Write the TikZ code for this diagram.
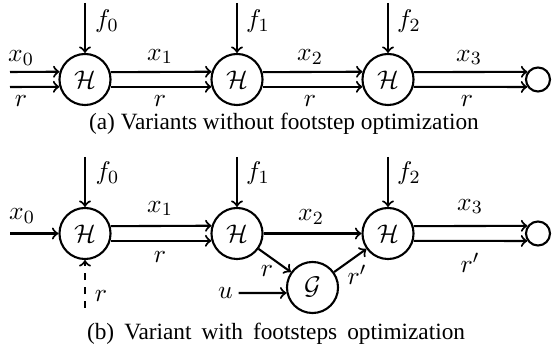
\documentclass[tikz,border=0pt]{standalone}
\usepackage{fontspec}
\setmainfont{Liberation Serif}
\begin{document}
\begin{tikzpicture}[x=0.429pt,y=-0.429pt,line width=0.9pt,
  hnode/.style={draw,circle,minimum size=21.9pt,inner sep=0pt,font=\fontsize{11}{13}\selectfont},
  endnode/.style={draw,circle,minimum size=10.3pt,inner sep=0pt},
  lbl/.style={inner sep=0pt,font=\fontsize{11}{13}\selectfont},
  arr/.style={->},
  captext/.style={inner sep=0pt,font=\fontsize{10}{12}\selectfont}
]
\useasboundingbox (0,0) rectangle (552,356);
% ---------- top diagram ----------
\node[hnode] (a1) at (85,79.5) {$\mathcal{H}$};
\node[hnode] (a2) at (237,79.5) {$\mathcal{H}$};
\node[hnode] (a3) at (388,79.5) {$\mathcal{H}$};
\node[endnode] (a4) at (538,79.5) {};
\coordinate (a0u) at (10,72);
\coordinate (a0l) at (10,87);
\coordinate (fa1) at (85,3);
\coordinate (fa2) at (237,3);
\coordinate (fa3) at (388,3);
\draw[arr] (fa1) -- (a1.north);
\draw[arr] (fa2) -- (a2.north);
\draw[arr] (fa3) -- (a3.north);
\draw[arr] (a0u) -- (a1.163.6);
\draw[arr] (a0l) -- (a1.196.4);
\draw[arr] (a1.16.4) -- (a2.163.6);
\draw[arr] (a1.-16.4) -- (a2.196.4);
\draw[arr] (a2.16.4) -- (a3.163.6);
\draw[arr] (a2.-16.4) -- (a3.196.4);
\draw[arr] (a3.16.4) -- (a4.144.6);
\draw[arr] (a3.-16.4) -- (a4.215.4);
\node[lbl] (tf0) at (107,21.5) {$f_0$};
\node[lbl] (tf1) at (258,21.5) {$f_1$};
\node[lbl] (tf2) at (409,21.5) {$f_2$};
\node[lbl] (tx0) at (21,58) {$x_0$};
\node[lbl] (tr0) at (21,101) {$r$};
\node[lbl] (tx1) at (160,56.5) {$x_1$};
\node[lbl] (tr1) at (160,101) {$r$};
\node[lbl] (tx2) at (310,57) {$x_2$};
\node[lbl] (tr2) at (310,101) {$r$};
\node[lbl] (tx3) at (469,57.5) {$x_3$};
\node[lbl] (tr3) at (467,101) {$r$};
\node[captext,anchor=west] (capa) at (88,124) {(a) Variants without footstep optimization};
% ---------- bottom diagram ----------
\node[hnode] (b1) at (85,233.5) {$\mathcal{H}$};
\node[hnode] (b2) at (237,233.5) {$\mathcal{H}$};
\node[hnode] (b3) at (388,233.5) {$\mathcal{H}$};
\node[endnode] (b4) at (538,233.5) {};
\node[hnode] (g) at (312.5,287.5) {$\mathcal{G}$};
\coordinate (b0) at (10,233.5);
\coordinate (fb1) at (85,157);
\coordinate (fb2) at (237,157);
\coordinate (fb3) at (388,157);
\coordinate (rb) at (85,308);
\draw[arr] (fb1) -- (b1.north);
\draw[arr] (fb2) -- (b2.north);
\draw[arr] (fb3) -- (b3.north);
\draw[arr] (b0) -- (b1);
\draw[arr,dashed] (rb) -- (b1.south);
\draw[arr] (b1.16.4) -- (b2.163.6);
\draw[arr] (b1.-16.4) -- (b2.196.4);
\draw[arr] (b2) -- (b3);
\draw[arr] (b2) -- (g);
\draw[arr] (g) -- (b3);
\draw[arr] (b3.16.4) -- (b4.144.6);
\draw[arr] (b3.-16.4) -- (b4.215.4);
\node[lbl] (u) at (225.5,293) {$u$};
\draw[arr] ([xshift=2pt]u.east) -- (g.192);
\node[lbl] (bf0) at (107.5,173.5) {$f_0$};
\node[lbl] (bf1) at (258,173.5) {$f_1$};
\node[lbl] (bf2) at (409,173.5) {$f_2$};
\node[lbl] (bx0) at (22,216) {$x_0$};
\node[lbl] (bx1) at (160,208.5) {$x_1$};
\node[lbl] (br1) at (160,257) {$r$};
\node[lbl] (bx2) at (311,217) {$x_2$};
\node[lbl] (bx3) at (470,206.5) {$x_3$};
\node[lbl] (br3) at (470,263) {$r'$};
\node[lbl] (brd) at (101,296) {$r$};
\node[lbl] (brg) at (267,271) {$r$};
\node[lbl] (brp) at (357,275) {$r'$};
\node[captext,anchor=west] (capb) at (86,334) {\spaceskip=4.3pt (b) Variant with footsteps optimization};
\end{tikzpicture}
\end{document}
